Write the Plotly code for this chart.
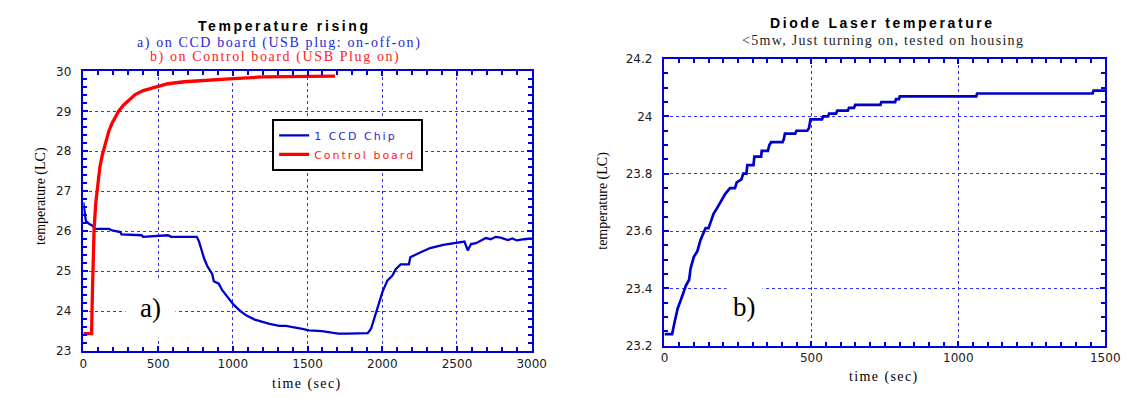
import plotly.graph_objects as go

# ---------------- data ----------------
ccd_time = [0, 7, 17, 40, 61, 79, 171, 193, 248, 255, 390, 400, 500, 566, 588, 759, 774, 790, 807, 829,
            862, 873, 906, 928, 960, 1004, 1048, 1092, 1147, 1202, 1246, 1311, 1355, 1465, 1509, 1596,
            1684, 1706, 1772, 1903, 1925, 1958, 1980, 2002, 2035, 2068, 2090, 2123, 2178, 2188, 2254,
            2320, 2408, 2495, 2550, 2572, 2594, 2627, 2649, 2693, 2726, 2759, 2792, 2840, 2870, 2900,
            2950, 3000]
ccd_temp = [26.72, 26.46, 26.26, 26.18, 26.14, 26.06, 26.06, 26.02, 25.98, 25.92, 25.90, 25.86, 25.88,
            25.90, 25.86, 25.86, 25.74, 25.53, 25.33, 25.13, 24.93, 24.75, 24.69, 24.53, 24.37, 24.17,
            24.01, 23.89, 23.79, 23.72, 23.68, 23.63, 23.63, 23.56, 23.52, 23.50, 23.46, 23.44, 23.44,
            23.45, 23.56, 23.97, 24.25, 24.49, 24.77, 24.89, 25.05, 25.17, 25.17, 25.35, 25.47, 25.58,
            25.66, 25.72, 25.74, 25.52, 25.68, 25.70, 25.75, 25.83, 25.80, 25.86, 25.84, 25.78, 25.82,
            25.77, 25.80, 25.82]

ctrl_time = [0, 55, 61, 72, 83, 94, 110, 127, 149, 171, 193, 215, 237, 270, 303, 347, 401, 478, 566,
             675, 807, 1004, 1202, 1465, 1684]
ctrl_temp = [23.44, 23.44, 24.53, 26.06, 26.70, 27.10, 27.59, 27.91, 28.23, 28.51, 28.71, 28.87, 29.01,
             29.16, 29.28, 29.42, 29.52, 29.60, 29.69, 29.74, 29.78, 29.82, 29.86, 29.88, 29.88]

laser_time = [0, 26, 34, 45, 56, 73, 84, 89, 100, 112, 123, 140, 150, 156, 167, 179, 190, 207, 223, 240,
              246, 262, 268, 279, 282, 303, 306, 329, 331, 352, 357, 363, 402, 406, 410, 445, 449, 486,
              492, 497, 536, 540, 557, 560, 584, 588, 624, 628, 645, 649, 735, 738, 785, 788, 798, 801,
              1061, 1064, 1457, 1460, 1500]
laser_temp = [23.24, 23.24, 23.28, 23.33, 23.36, 23.41, 23.43, 23.47, 23.51, 23.53, 23.57, 23.61, 23.61,
              23.63, 23.66, 23.68, 23.70, 23.73, 23.75, 23.75, 23.77, 23.78, 23.80, 23.80, 23.83, 23.83,
              23.86, 23.86, 23.88, 23.88, 23.90, 23.91, 23.91, 23.92, 23.94, 23.94, 23.95, 23.95, 23.96,
              23.99, 23.99, 24.00, 24.00, 24.01, 24.01, 24.02, 24.02, 24.03, 24.03, 24.04, 24.04, 24.05,
              24.05, 24.06, 24.06, 24.07, 24.07, 24.08, 24.08, 24.09, 24.09]

series_names = ["1 CCD Chip", "Control board"]

# ---------------- style ----------------
W, H = 1135, 398
def fx(p):
    return p / W
def fy(p):
    return 1 - p / H

BLUE_LINE = "#0000cc"
RED_LINE = "#ff0000"
AX = "#0000dd"
GRID = "#3030ff"
SERIF = "Liberation Serif"
SANS = "Liberation Sans"

fig = go.Figure()
fig.add_trace(go.Scatter(x=ccd_time, y=ccd_temp, mode="lines",
                         name=f'<span style="color:#2a2ad0;letter-spacing:2px">{series_names[0]}</span>',
                         line=dict(color=BLUE_LINE, width=2.3), xaxis="x", yaxis="y"))
fig.add_trace(go.Scatter(x=ctrl_time, y=ctrl_temp, mode="lines",
                         name=f'<span style="color:#ff1a1a;letter-spacing:2px">{series_names[1]}</span>',
                         line=dict(color=RED_LINE, width=3.3), xaxis="x", yaxis="y"))
fig.add_trace(go.Scatter(x=laser_time, y=laser_temp, mode="lines", showlegend=False,
                         line=dict(color=BLUE_LINE, width=2.7), xaxis="x2", yaxis="y2"))

def axis(domain, rng, dtick, mdtick, anchor, suffix=""):
    return dict(domain=domain, range=rng, dtick=dtick, anchor=anchor,
                showline=True, linecolor=AX, linewidth=2, mirror="allticks",
                ticks="inside", ticklen=5, tickwidth=1.5, tickcolor=AX,
                showgrid=True, gridcolor=GRID, griddash="dot", gridwidth=1,
                zeroline=False, ticksuffix=suffix,
                tickfont=dict(family="DejaVu Sans", size=12, color="#1a1a1a"),
                minor=dict(dtick=mdtick, ticks="inside", ticklen=4, tickwidth=1.5,
                           tickcolor=AX, showgrid=False))

NB = "\u00a0\u00a0"

fig.update_layout(
    width=W, height=H, margin=dict(l=0, r=0, t=0, b=0),
    paper_bgcolor="white", plot_bgcolor="white",
    xaxis=axis([fx(80.7), fx(536.7)], [0, 3000], 500, 100, "y"),
    yaxis=axis([fy(356.7), fy(66.7)], [23, 30], 1, 0.2, "x", NB),
    xaxis2=axis([fx(671.7), fx(1120)], [0, 1500], 500, 50, "y2"),
    yaxis2=axis([fy(351), fy(54)], [23.2, 24.2], 0.2, 0.05, "x2", NB),
    showlegend=True,
    legend=dict(x=fx(272.7), y=fy(116), xanchor="left", yanchor="top",
                bgcolor="white", bordercolor="black", borderwidth=2,
                font=dict(family="DejaVu Sans", size=11, color="black"),
                itemwidth=30, tracegroupgap=0, traceorder="normal"),
)

def ann(text, x, y, size, family, color="black", angle=0, bg=None, spacing=None, bold=False, pad=1):
    if spacing:
        text = f'<span style="letter-spacing:{spacing}px">{text}</span>'
    if bold:
        text = f"<b>{text}</b>"
    d = dict(text=text, x=fx(x), y=fy(y), xref="paper", yref="paper",
             xanchor="center", yanchor="middle", showarrow=False, textangle=angle,
             font=dict(size=size, family=family, color=color), borderpad=pad)
    if bg:
        d["bgcolor"] = bg
    fig.add_annotation(**d)

ann("Temperature rising", 285, 20, 14, SANS, spacing=2.6, bold=True)
ann("a) on CCD board (USB plug: on-off-on)", 280, 37, 14, SERIF, color="#2626d8", spacing=1.6)
ann("b) on Control board (USB Plug on)", 276, 52, 14, SERIF, color="#ff2020", spacing=1.6)
ann("Diode Laser temperature", 893, 17, 14, SANS, spacing=2.6, bold=True)
ann("&lt;5mw, Just turning on, tested on housing", 894, 35, 14, SERIF, color="#222222", spacing=1.3)
ann("temperature (LC)", 37.5, 196, 14, SERIF, angle=-90)
ann("temperature (LC)", 609, 201, 14, SERIF, angle=-90)
ann("time (sec)", 308, 391, 14, SERIF, spacing=1.4)
ann("time (sec)", 895, 383, 14, SERIF, spacing=1.4)
ann("a)", 149.5, 312, 27, SERIF, bg="white", pad=14)
ann("b)", 753, 311, 27, SERIF, bg="white", pad=6)

fig.write_html("out.html")
